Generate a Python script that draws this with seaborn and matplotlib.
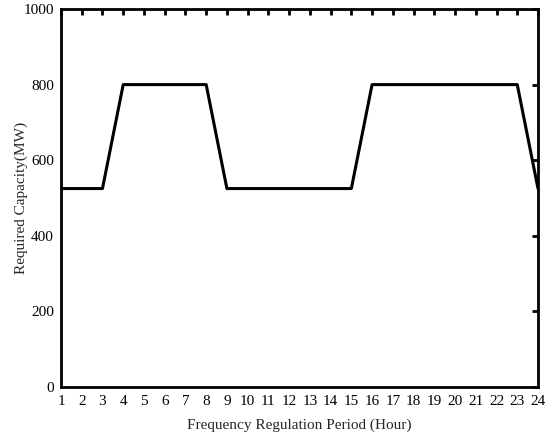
import matplotlib
matplotlib.use("Agg")
import matplotlib.pyplot as plt
import seaborn as sns
import pandas as pd

hours = list(range(1, 25))
capacity = [525, 525, 525, 800, 800, 800, 800, 800, 525, 525, 525, 525, 525, 525, 525,
            800, 800, 800, 800, 800, 800, 800, 800, 525]
y_ticks = [0, 200, 400, 600, 800, 1000]

sns.set_theme(style="white")
plt.rcParams['font.family'] = ['Liberation Serif', 'DejaVu Serif']

df = pd.DataFrame({"hour": hours, "cap": capacity})

fig = plt.figure(figsize=(5.5, 4.41), dpi=100)
ax = fig.add_axes([61/550, 1 - 387/441, (538-61)/550, (387-9)/441])
sns.lineplot(data=df, x="hour", y="cap", ax=ax, color="black", linewidth=2.2)

ax.set_xlim(1, 24)
ax.set_ylim(0, 1000)
ax.set_xticks(hours)
ax.set_yticks(y_ticks)
ax.set_xlabel("Frequency Regulation Period (Hour)", fontsize=11, labelpad=7)
ax.set_ylabel("Required Capacity(MW)", fontsize=11, labelpad=-3)
ax.tick_params(direction="in", length=4, width=2, top=True, right=True,
               labelsize=11, color="black", labelcolor="black")
ax.tick_params(axis="y", pad=5)
ax.tick_params(axis="x", pad=6)
for s in ax.spines.values():
    s.set_linewidth(2)
    s.set_color("black")

fig.savefig("out.png", dpi=100)
